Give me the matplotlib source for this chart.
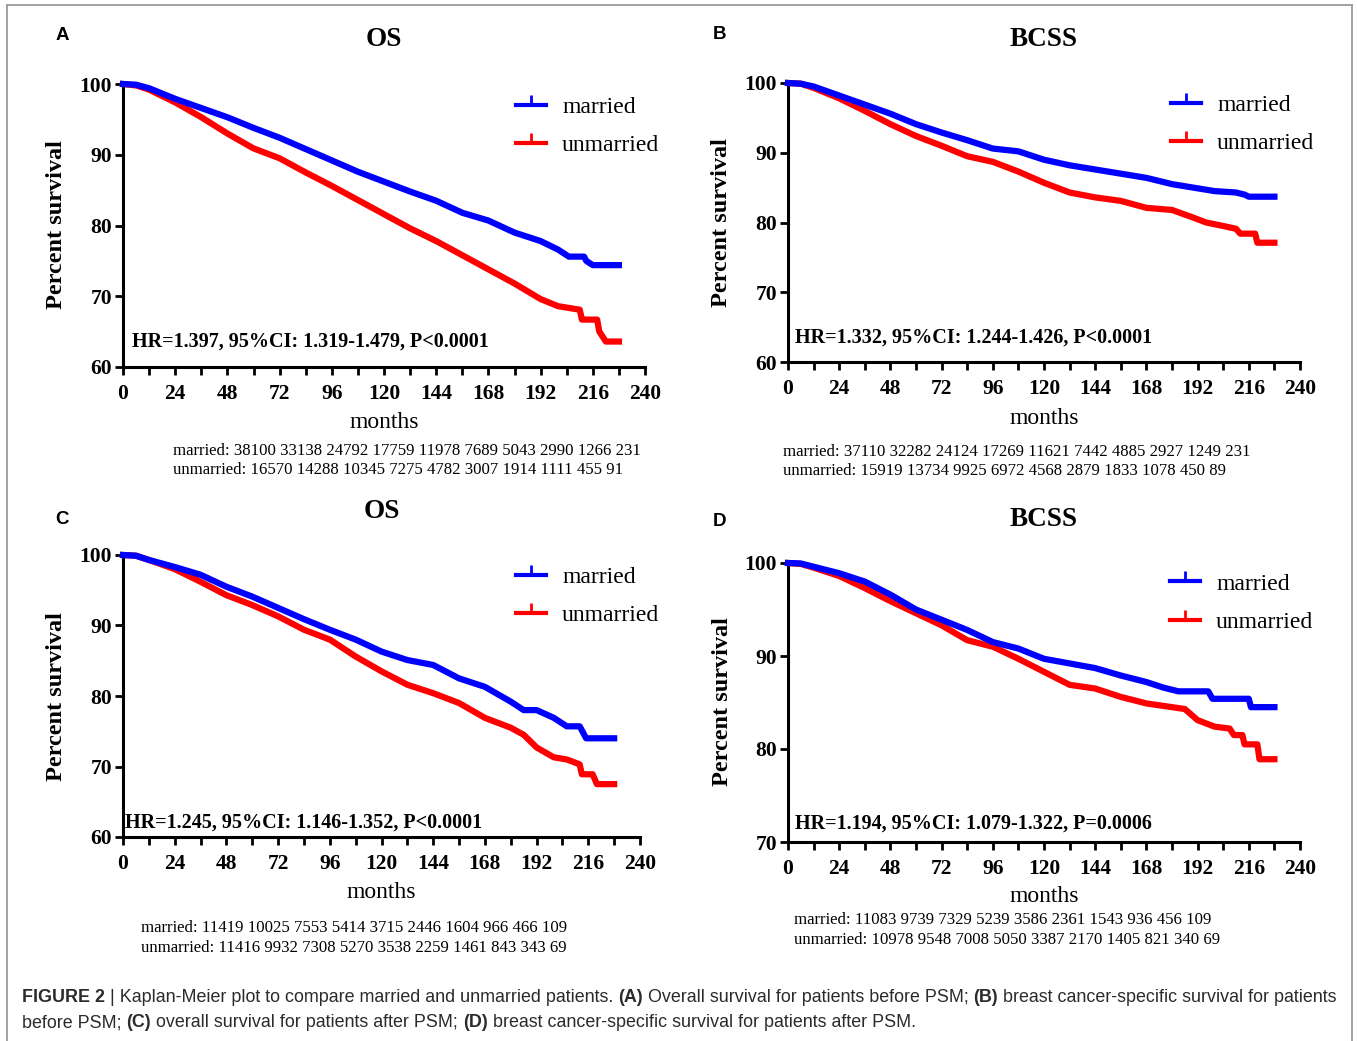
import matplotlib
matplotlib.use("Agg")
import matplotlib.pyplot as plt  # noqa: E402
from matplotlib.lines import Line2D  # noqa: E402
from matplotlib.text import Annotation  # noqa: E402
from matplotlib.ticker import MultipleLocator  # noqa: E402

# ---- data (months, percent survival) ----
a_t_mar = [0, 6, 12, 24, 36, 48, 60, 72, 84, 96, 108, 120, 132, 144, 156, 168, 180, 192, 200, 205, 212, 213, 216, 228]
a_s_mar = [100, 99.9, 99.4, 97.9, 96.6, 95.3, 93.8, 92.4, 90.8, 89.2, 87.6, 86.2, 84.8, 83.5, 81.8, 80.7, 79.0, 77.8, 76.6, 75.6, 75.6, 75.0, 74.4, 74.4]
a_t_unm = [0, 6, 12, 24, 36, 48, 60, 72, 84, 96, 108, 120, 132, 144, 156, 168, 180, 192, 200, 204, 210, 211, 218, 219, 222, 228]
a_s_unm = [100, 99.8, 99.2, 97.4, 95.3, 93.0, 90.9, 89.5, 87.5, 85.6, 83.6, 81.6, 79.6, 77.8, 75.8, 73.8, 71.8, 69.6, 68.6, 68.4, 68.1, 66.7, 66.7, 65.0, 63.6, 63.6]

b_t_mar = [0, 6, 12, 24, 36, 48, 60, 72, 84, 96, 108, 120, 132, 144, 156, 168, 180, 192, 200, 210, 214, 216, 228]
b_s_mar = [100, 99.9, 99.5, 98.2, 96.9, 95.6, 94.1, 92.9, 91.8, 90.6, 90.2, 89.0, 88.2, 87.6, 87.0, 86.4, 85.5, 84.9, 84.5, 84.3, 84.0, 83.7, 83.7]
b_t_unm = [0, 6, 12, 24, 36, 48, 60, 72, 84, 96, 108, 120, 132, 144, 156, 168, 180, 190, 196, 204, 210, 212, 219, 220, 228]
b_s_unm = [100, 99.9, 99.3, 97.8, 96.0, 94.1, 92.4, 91.0, 89.5, 88.7, 87.3, 85.7, 84.3, 83.6, 83.1, 82.1, 81.8, 80.7, 80.0, 79.5, 79.1, 78.4, 78.4, 77.1, 77.1]

c_t_mar = [0, 6, 12, 24, 36, 48, 60, 72, 84, 96, 108, 120, 132, 144, 156, 168, 180, 186, 192, 200, 206, 212, 215, 228]
c_s_mar = [100, 99.9, 99.3, 98.3, 97.2, 95.5, 94.1, 92.5, 90.9, 89.4, 88.0, 86.3, 85.1, 84.4, 82.5, 81.3, 79.2, 78.0, 78.0, 76.9, 75.7, 75.7, 74.0, 74.0]
c_t_unm = [0, 6, 12, 24, 36, 48, 60, 72, 84, 96, 108, 120, 132, 144, 156, 168, 180, 186, 192, 200, 206, 212, 213, 218, 220, 228]
c_s_unm = [100, 99.9, 99.3, 98.0, 96.2, 94.3, 92.9, 91.3, 89.4, 88.0, 85.6, 83.5, 81.6, 80.4, 79.0, 76.9, 75.5, 74.5, 72.7, 71.3, 71.0, 70.3, 68.9, 68.9, 67.5, 67.5]

d_t_mar = [0, 6, 12, 24, 36, 48, 60, 72, 84, 96, 108, 120, 132, 144, 156, 168, 176, 183, 197, 199, 216, 217, 228]
d_s_mar = [100, 99.95, 99.6, 98.9, 98.0, 96.6, 95.0, 93.9, 92.8, 91.5, 90.8, 89.7, 89.2, 88.7, 87.9, 87.2, 86.6, 86.2, 86.2, 85.4, 85.4, 84.5, 84.5]
d_t_unm = [0, 6, 12, 24, 36, 48, 60, 72, 84, 96, 108, 120, 132, 144, 156, 168, 180, 186, 192, 200, 207, 209, 213, 214, 220, 221, 228]
d_s_unm = [100, 99.9, 99.5, 98.6, 97.3, 95.9, 94.6, 93.3, 91.7, 91.0, 89.7, 88.3, 86.9, 86.5, 85.6, 84.9, 84.5, 84.3, 83.1, 82.4, 82.2, 81.5, 81.5, 80.5, 80.5, 78.9, 78.9]

hr_texts = ["HR=1.397, 95%CI: 1.319-1.479, P<0.0001",
            "HR=1.332, 95%CI: 1.244-1.426, P<0.0001",
            "HR=1.245, 95%CI: 1.146-1.352, P<0.0001",
            "HR=1.194, 95%CI: 1.079-1.322, P=0.0006"]
risk_married = ["38100 33138 24792 17759 11978 7689 5043 2990 1266 231",
                "37110 32282 24124 17269 11621 7442 4885 2927 1249 231",
                "11419 10025 7553 5414 3715 2446 1604 966 466 109",
                "11083 9739 7329 5239 3586 2361 1543 936 456 109"]
risk_unmarried = ["16570 14288 10345 7275 4782 3007 1914 1111 455 91",
                  "15919 13734 9925 6972 4568 2879 1833 1078 450 89",
                  "11416 9932 7308 5270 3538 2259 1461 843 343 69",
                  "10978 9548 7008 5050 3387 2170 1405 821 340 69"]
titles = ["OS", "BCSS", "OS", "BCSS"]
letters = ["A", "B", "C", "D"]
groups = ["married", "unmarried"]

W, H = 1357, 1041
SERIF = "Liberation Serif"
SANS = "Liberation Sans"
BLUE = "#0000ff"
RED = "#ff0000"


def fx(x):
    return x / W


def fy(y):
    return 1 - y / H


# layout in pixels: axes box (l, t, r, b), and text anchor points
layout = [
    dict(box=(123, 84, 645, 367), ymin=60, letter=(62, 35), title_y=40, ylab=(57, 225), months_y=423,
         hr=(132, 342), leg=(516, 126.5), risk=(173, 451, 470)),
    dict(box=(788, 83, 1300, 362), ymin=60, letter=(720, 34), title_y=40, ylab=(721, 223), months_y=418,
         hr=(795, 338), leg=(1171, 124.5), risk=(783, 452, 471)),
    dict(box=(123, 555, 640, 837), ymin=60, letter=(62, 520), title_y=512, ylab=(57, 697), months_y=893,
         hr=(125, 823), leg=(516, 596.5), risk=(141, 928, 948)),
    dict(box=(788, 563, 1300, 842), ymin=70, letter=(720, 521), title_y=519, ylab=(722, 702), months_y=897,
         hr=(795, 824), leg=(1170, 603), risk=(794, 920, 940)),
]
curves = [(a_t_mar, a_s_mar, a_t_unm, a_s_unm),
          (b_t_mar, b_s_mar, b_t_unm, b_s_unm),
          (c_t_mar, c_s_mar, c_t_unm, c_s_unm),
          (d_t_mar, d_s_mar, d_t_unm, d_s_unm)]

fig = plt.figure(figsize=(W / 100, H / 100), dpi=100)

for i, lay in enumerate(layout):
    l, t, r, b = lay["box"]
    ax = fig.add_axes([fx(l), fy(b), (r - l) / W, (b - t) / H])
    tm, sm, tu, su = curves[i]
    ax.plot(tu, su, color=RED, lw=4.5, clip_on=False, zorder=3)
    ax.plot(tm, sm, color=BLUE, lw=4.5, clip_on=False, zorder=4)

    ax.set_xlim(0, 240)
    ax.set_ylim(lay["ymin"], 100)
    ax.xaxis.set_major_locator(MultipleLocator(24))
    ax.xaxis.set_minor_locator(MultipleLocator(12))
    ax.yaxis.set_major_locator(MultipleLocator(10))
    for side in ("top", "right"):
        ax.spines[side].set_visible(False)
    for side in ("left", "bottom"):
        ax.spines[side].set_linewidth(2.2)
    ax.tick_params(axis="both", which="both", direction="out", width=2, length=6, colors="black")
    ax.tick_params(axis="x", which="major", pad=6)
    ax.tick_params(axis="y", which="major", pad=2)
    for lab in ax.get_xticklabels() + ax.get_yticklabels():
        lab.set_fontfamily(SERIF)
        lab.set_fontweight("bold")
        lab.set_fontsize(15.5)

    handles = [Line2D([], [], color=BLUE, lw=3, marker=2, markersize=7, markeredgewidth=2),
               Line2D([], [], color=RED, lw=3, marker=2, markersize=7, markeredgewidth=2)]
    ax.legend(handles, groups, loc="center left", bbox_to_anchor=(fx(lay["leg"][0]), fy(lay["leg"][1])),
              bbox_transform=fig.transFigure, frameon=False, borderpad=0, borderaxespad=0,
              handlelength=1.27, handletextpad=0.68, labelspacing=0.71, numpoints=1,
              prop=dict(family=SERIF, size=17))

    cx = (l + r) / 2
    fig.text(fx(cx), fy(lay["title_y"]), titles[i], family=SERIF, weight="bold", size=19.5,
             ha="center", va="center")
    fig.text(fx(lay["letter"][0]), fy(lay["letter"][1]), letters[i], family=SANS, weight="bold", size=13.5,
             ha="center", va="center")
    fig.text(fx(lay["ylab"][0]), fy(lay["ylab"][1]), "Percent survival", family=SERIF, weight="bold",
             size=17.5, rotation=90, ha="center", va="center")
    fig.text(fx(cx), fy(lay["months_y"]), "months", family=SERIF, size=17, ha="center", va="center")
    fig.text(fx(lay["hr"][0]), fy(lay["hr"][1]), hr_texts[i], family=SERIF, weight="bold", size=14.5,
             ha="left", va="center")
    rx, ry1, ry2 = lay["risk"]
    fig.text(fx(rx), fy(ry1), "married: " + risk_married[i], family=SERIF, size=12.1, ha="left", va="center")
    fig.text(fx(rx), fy(ry2), "unmarried: " + risk_unmarried[i], family=SERIF, size=12.1, ha="left", va="center")

# caption with mixed bold runs
CAP_SIZE = 12.9
CAP_GAP = 0.278 * CAP_SIZE


def caption_line(x, y, parts):
    prev = None
    for text, bold, gap in parts:
        kw = dict(fontsize=CAP_SIZE, family=SANS, color="#2b2b2b",
                  fontweight="bold" if bold else "normal", va="bottom", ha="left")
        if prev is None:
            prev = fig.text(fx(x), fy(y), text, **kw)
        else:
            ann = Annotation(text, xy=(1, 0), xycoords=prev, xytext=(gap, 0),
                             textcoords="offset points", **kw)
            fig.add_artist(ann)
            prev = ann


caption_line(22, 1006, [
    ("FIGURE 2", True, 0),
    ("| Kaplan-Meier plot to compare married and unmarried patients.", False, CAP_GAP),
    ("(A)", True, CAP_GAP),
    ("Overall survival for patients before PSM;", False, CAP_GAP),
    ("(B)", True, CAP_GAP),
    ("breast cancer-specific survival for patients", False, CAP_GAP),
])
caption_line(22, 1031, [
    ("before PSM;", False, 0),
    ("(C)", True, CAP_GAP),
    ("overall survival for patients after PSM;", False, CAP_GAP),
    ("(D)", True, CAP_GAP),
    ("breast cancer-specific survival for patients after PSM.", False, CAP_GAP),
])

# grey frame around the figure panel (open at the bottom)
frame_kw = dict(color="#9a9a9a", lw=1.3, transform=fig.transFigure)
fig.add_artist(Line2D([fx(7), fx(7)], [fy(5), 0], **frame_kw))
fig.add_artist(Line2D([fx(7), fx(1352)], [fy(5), fy(5)], **frame_kw))
fig.add_artist(Line2D([fx(1352), fx(1352)], [fy(5), 0], **frame_kw))

fig.savefig("out.png", dpi=100)
